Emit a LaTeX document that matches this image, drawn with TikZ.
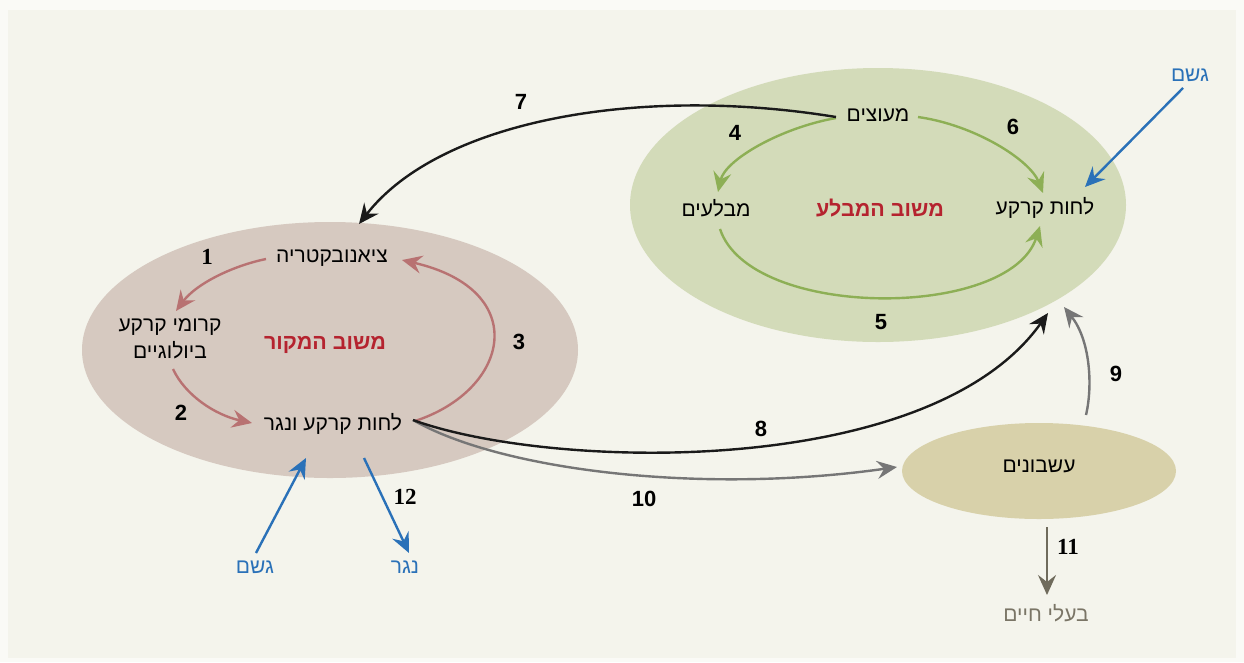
\documentclass[tikz,border=0pt]{standalone}
\usepackage{fontspec}
\setmainfont{Liberation Sans}
\newfontfamily\heb[Script=Hebrew]{Liberation Sans}
\newfontfamily\numserif{Liberation Serif}
\TeXXeTstate=1
\usetikzlibrary{arrows.meta}
\definecolor{outerbg}{HTML}{FAFAF6}
\definecolor{panel}{HTML}{F4F4EC}
\definecolor{srcfill}{HTML}{D6C9C0}
\definecolor{sinkfill}{HTML}{D3DBB9}
\definecolor{herbfill}{HTML}{D8D1AA}
\definecolor{redarr}{HTML}{B87272}
\definecolor{greenarr}{HTML}{8DAF55}
\definecolor{blackarr}{HTML}{1A1A1A}
\definecolor{grayarr}{HTML}{767676}
\definecolor{bluearr}{HTML}{2A71B8}
\definecolor{animarr}{HTML}{6F6B5C}
\definecolor{titlered}{HTML}{B5232F}
\definecolor{animtext}{HTML}{7A7566}
\begin{document}
\begin{tikzpicture}[x=1pt,y=-1pt,
  hebtext/.style={font=\heb\fontsize{21}{27}\selectfont, inner sep=0pt, align=center},
  titletext/.style={font=\heb\bfseries\fontsize{21.5}{25}\selectfont, text=titlered, inner sep=0pt},
  numlabel/.style={font=\bfseries\fontsize{22}{26}\selectfont, inner sep=0pt},
  numserlabel/.style={font=\numserif\bfseries\fontsize{23}{26}\selectfont, inner sep=0pt},
  arr/.style={line width=2.4pt, -{Stealth[length=20pt,width=18pt,inset=7pt]}},
  redline/.style={arr, draw=redarr},
  greenline/.style={arr, draw=greenarr},
  blackline/.style={arr, draw=blackarr},
  grayline/.style={arr, draw=grayarr},
  blueline/.style={arr, draw=bluearr},
  animline/.style={arr, draw=animarr}
]
\useasboundingbox (0,0) rectangle (1244,662);
\fill[outerbg] (0,0) rectangle (1244,662);
\fill[panel] (8,10) rectangle (1236,658);

% ellipses
\fill[srcfill] (330,350) ellipse [x radius=248pt, y radius=128pt];
\fill[sinkfill] (878,205) ellipse [x radius=248pt, y radius=137pt];
\fill[herbfill] (1039,471) ellipse [x radius=137pt, y radius=48pt];

% source cycle texts
\node[hebtext] (cyano) at (332,258) {\beginR ציאנובקטריה\endR};
\node[hebtext] (crust) at (170,339) {\beginR קרומי קרקע\endR\\\beginR ביולוגיים\endR};
\node[titletext] (srctitle) at (325,345) {\beginR משוב המקור\endR};
\node[hebtext] (moist) at (333,424) {\beginR לחות קרקע ונגר\endR};

% sink cycle texts
\node[hebtext] (shrubs) at (878,115) {\beginR מעוצים\endR};
\node[hebtext] (sinks) at (716,208) {\beginR מבלעים\endR};
\node[titletext] (sinktitle) at (880,208) {\beginR משוב המבלע\endR};
\node[hebtext] (sinkmoist) at (1045,208) {\beginR לחות קרקע\endR};

% others
\node[hebtext] (herbs) at (1039,466) {\beginR עשבונים\endR};
\node[hebtext, text=bluearr] (rain1) at (1190,75) {\beginR גשם\endR};
\node[hebtext, text=bluearr] (rain2) at (255,567) {\beginR גשם\endR};
\node[hebtext, text=bluearr] (runoff) at (405,567) {\beginR נגר\endR};
\node[hebtext, text=animtext] (animals) at (1046,613) {\beginR בעלי חיים\endR};

% numbers
\node[numserlabel] (n1) at (207,257) {1};
\node[numlabel] (n2) at (181,413) {2};
\node[numlabel] (n3) at (519,342) {3};
\node[numlabel] (n4) at (735,133) {4};
\node[numlabel] (n5) at (881,322) {5};
\node[numlabel] (n6) at (1013,127) {6};
\node[numlabel] (n7) at (521,102) {7};
\node[numlabel] (n8) at (761,429) {8};
\node[numlabel] (n9) at (1116,374) {9};
\node[numlabel] (n10) at (644,499) {10};
\node[numserlabel] (n11) at (1068,547) {11};
\node[numserlabel] (n12) at (405,497) {12};

% arrow end points
\coordinate (a1s) at (266,259); \coordinate (a1e) at (176,311);
\coordinate (a2s) at (173,369); \coordinate (a2e) at (252,423);
\coordinate (a3s) at (415,421); \coordinate (a3e) at (402,260);
\coordinate (a4s) at (836,118); \coordinate (a4e) at (718,192);
\coordinate (a5s) at (720,229); \coordinate (a5e) at (1040,226);
\coordinate (a6s) at (918,117); \coordinate (a6e) at (1043,193);
\coordinate (a7s) at (836,117); \coordinate (a7e) at (359,224);
\coordinate (a8s) at (413,420); \coordinate (a8e) at (1048,313);
\coordinate (a9s) at (1086,415); \coordinate (a9e) at (1064,307);
\coordinate (a10e) at (897,467);
\coordinate (a11s) at (1047,527); \coordinate (a11e) at (1047,595);
\coordinate (a12s) at (364,458); \coordinate (a12e) at (409,553);
\coordinate (r2s) at (256,553); \coordinate (r2e) at (306,458);
\coordinate (r1s) at (1183,88); \coordinate (r1e) at (1085,187);

% source cycle arrows
\draw[redline] (a1s) .. controls (232,266) and (196,284) .. (a1e);
\draw[redline] (a2s) .. controls (185,395) and (215,415) .. (a2e);
\draw[redline] (a3s) .. controls (510,390) and (532,290) .. (a3e);

% sink cycle arrows
\draw[greenline] (a4s) .. controls (780,128) and (725,160) .. (a4e);
\draw[greenline] (a5s) .. controls (750,320) and (1010,320) .. (a5e);
\draw[greenline] (a6s) .. controls (975,125) and (1030,160) .. (a6e);

% connecting arrows
\draw[blackline] (a7s) .. controls (640,85) and (440,120) .. (a7e);
\draw[grayline] (a8s) .. controls (500,470) and (700,495) .. (a10e);
\draw[blackline] (a8s) .. controls (550,470) and (930,480) .. (a8e);
\draw[grayline] (a9s) .. controls (1093,385) and (1090,340) .. (a9e);
\draw[animline] (a11s) -- (a11e);
\draw[blueline] (a12s) -- (a12e);
\draw[blueline] (r2s) -- (r2e);
\draw[blueline] (r1s) -- (r1e);
\end{tikzpicture}
\end{document}
